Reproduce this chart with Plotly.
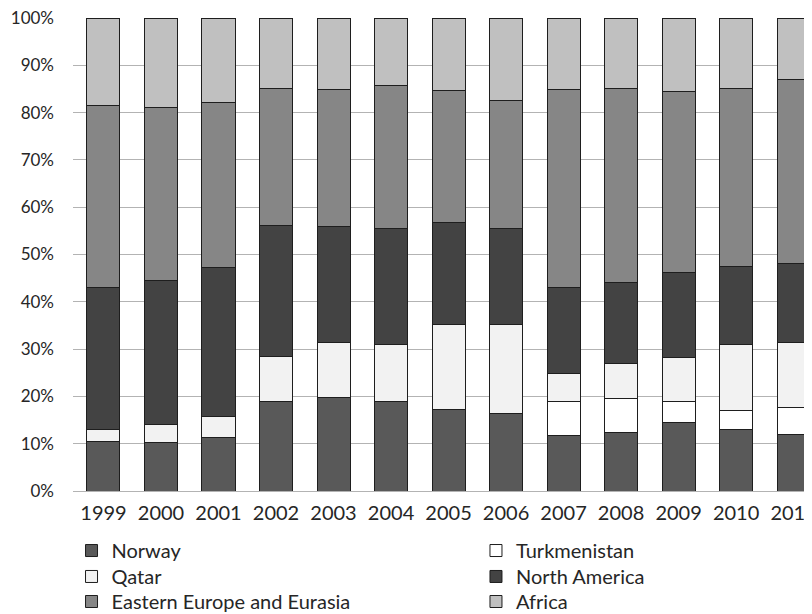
import plotly.graph_objects as go

years = ["1999", "2000", "2001", "2002", "2003", "2004", "2005",
         "2006", "2007", "2008", "2009", "2010", "2011"]

norway = [10.4, 10.2, 11.4, 19.0, 19.7, 19.0, 17.2, 16.3, 11.8, 12.3, 14.4, 13.0, 11.9]
turkmenistan = [None, None, None, None, None, None, None, None, 7.2, 7.2, 4.6, 4.1, 5.7]
qatar = [2.6, 3.8, 4.3, 9.5, 11.8, 12.0, 18.1, 19.0, 5.9, 7.4, 9.2, 13.9, 13.9]
north_america = [30.0, 30.4, 31.6, 27.6, 24.4, 24.4, 21.4, 20.1, 18.1, 17.1, 18.1, 16.4, 16.6]
eastern_europe = [38.5, 36.6, 34.9, 28.9, 28.9, 30.3, 27.9, 27.2, 41.8, 41.0, 38.1, 37.6, 39.0]
africa = [18.5, 19.0, 17.8, 15.0, 15.0, 14.3, 15.4, 17.4, 15.2, 15.0, 15.6, 15.0, 12.9]

series_names = ["Norway", "Turkmenistan", "Qatar", "North America",
                "Eastern Europe and Eurasia", "Africa"]
series_values = [norway, turkmenistan, qatar, north_america, eastern_europe, africa]
series_colors = ["#595959", "#ffffff", "#f2f2f2", "#434343", "#868686", "#c0c0c0"]

# legend grid: two columns, three rows (row-major order of the series)
legend_cols_x = [-0.002, 0.5453]
legend_rows_y = [-0.0846, -0.1395, -0.1924]

y_ticks = [0, 10, 20, 30, 40, 50, 60, 70, 80, 90, 100]
y_tick_text = [f"{v}%" for v in y_ticks]

font_family = "Lato, 'Open Sans', sans-serif"

fig = go.Figure()
legend_layouts = {}
for i, (name, vals, color) in enumerate(zip(series_names, series_values, series_colors)):
    leg_id = "legend" if i == 0 else f"legend{i + 1}"
    fig.add_trace(go.Bar(
        x=years, y=vals, name=name, legend=leg_id,
        marker=dict(color=color, line=dict(color="#1e1e1e", width=1)),
    ))
    legend_layouts[leg_id] = dict(
        orientation="v",
        traceorder="normal",
        x=legend_cols_x[i % 2], xanchor="left",
        y=legend_rows_y[i // 2], yanchor="top",
        font=dict(size=20, family=font_family, color="#262626"),
        itemwidth=30,
        bgcolor="rgba(0,0,0,0)",
    )

fig.update_layout(
    width=804, height=614,
    barmode="stack",
    bargap=0.426,
    paper_bgcolor="white",
    plot_bgcolor="white",
    margin=dict(l=65, r=0, t=10, b=131, autoexpand=False),
    font=dict(family=font_family, color="#262626"),
    showlegend=True,
    xaxis=dict(
        type="category",
        range=[-0.53, 12.32],
        showgrid=False,
        showline=False,
        ticks="",
        automargin=False,
        ticklabeloverflow="allow",
        tickfont=dict(size=20, family=font_family, color="#262626"),
        ticklabelstandoff=8,
        fixedrange=True,
    ),
    yaxis=dict(
        range=[0, 100],
        tickvals=y_ticks,
        ticktext=y_tick_text,
        showgrid=True,
        gridcolor="#b3b3b3",
        gridwidth=1,
        zeroline=True,
        zerolinecolor="#b3b3b3",
        zerolinewidth=1,
        showline=False,
        ticks="",
        automargin=False,
        ticklabeloverflow="allow",
        tickfont=dict(size=17, family=font_family, color="#262626"),
        ticklabelstandoff=18,
        fixedrange=True,
    ),
    **legend_layouts,
)

fig.write_html("out.html")
